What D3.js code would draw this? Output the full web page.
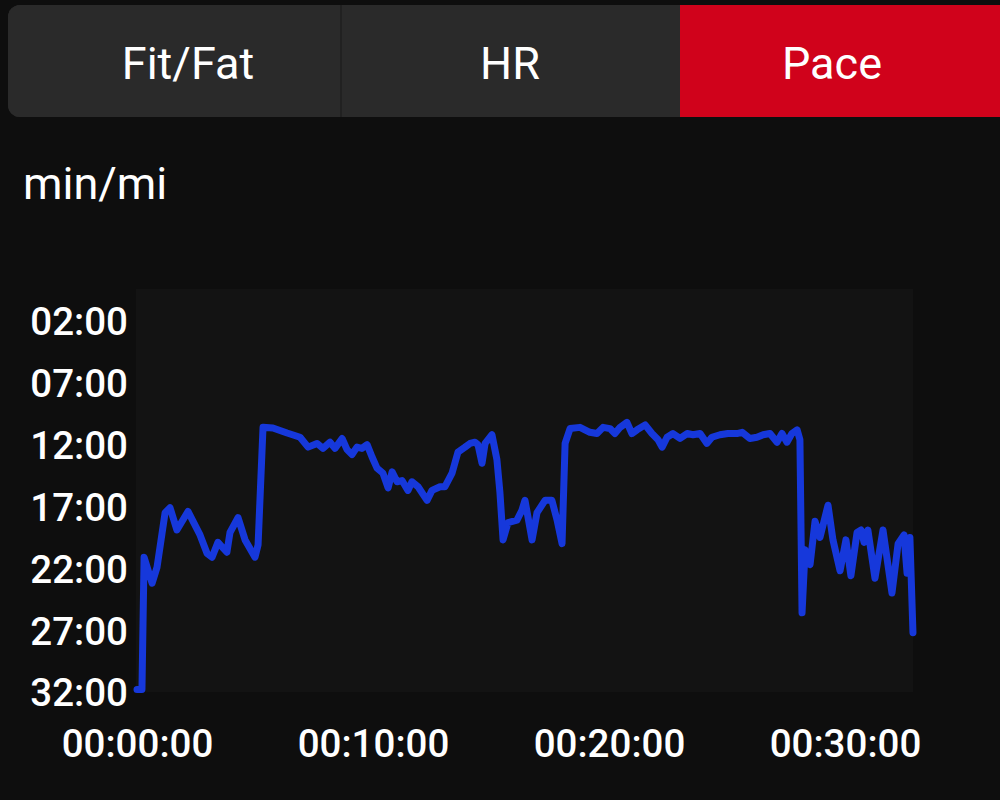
<!DOCTYPE html>
<html>
<head>
<meta charset="utf-8">
<script src="https://cdn.jsdelivr.net/npm/d3@7"></script>
<style>
  html, body { margin: 0; padding: 0; background: #0e0e0e; }
  svg { display: block; }
</style>
</head>
<body>
<svg id="chart" width="1000" height="800"></svg>
<script>
// ---- Data (elapsed minutes, pace in min/mi) ----
const tabs = ["Fit/Fat", "HR", "Pace"];
const activeTab = "Pace";
const unitLabel = "min/mi";
const xTickValues = [0, 10, 20, 30];
const yTickValues = [2, 7, 12, 17, 22, 27, 32];
const elapsedMin = [
  0, 0.21, 0.30, 0.64, 0.85, 1.19, 1.40, 1.69, 2.16, 2.67, 2.97, 3.18, 3.43, 3.81, 3.94, 4.28, 4.58, 5.00, 5.13, 5.34,
  5.76, 6.36, 6.91, 7.25, 7.63, 7.88, 8.18, 8.39, 8.69, 8.90, 9.11, 9.32, 9.53, 9.75, 9.96, 10.17, 10.42, 10.64, 10.81, 11.02,
  11.23, 11.48, 11.65, 11.91, 12.29, 12.50, 12.84, 13.05, 13.35, 13.60, 13.90, 14.11, 14.32, 14.45, 14.62, 14.75, 15.04, 15.25, 15.38, 15.51,
  15.72, 16.10, 16.31, 16.44, 16.74, 16.95, 17.29, 17.58, 17.80, 18.01, 18.14, 18.35, 18.77, 19.19, 19.49, 19.75, 20.04, 20.25, 20.47, 20.76,
  20.97, 21.19, 21.53, 21.82, 22.08, 22.25, 22.46, 22.71, 23.01, 23.31, 23.56, 23.86, 24.15, 24.36, 24.70, 25.04, 25.42, 25.64, 25.97, 26.27,
  26.53, 26.82, 27.12, 27.33, 27.54, 27.75, 27.97, 28.09, 28.18, 28.31, 28.52, 28.73, 28.94, 29.28, 29.49, 29.79, 30.04, 30.25, 30.51, 30.68,
  30.81, 30.97, 31.27, 31.61, 31.99, 32.25, 32.50, 32.63, 32.75, 32.88
];
const paceMin = [
  31.8, 31.8, 21.1, 23.2, 21.9, 17.5, 17.1, 18.9, 17.4, 19.3, 20.8, 21.1, 19.9, 20.7, 19.1, 17.9, 19.7, 21.1, 20.1, 10.6,
  10.65, 11.06, 11.4, 12.2, 11.9, 12.3, 11.8, 12.3, 11.5, 12.4, 12.8, 12.2, 12.3, 12.0, 13.0, 13.9, 14.3, 15.5, 14.2, 15.0,
  14.9, 15.7, 15.0, 15.4, 16.5, 15.7, 15.4, 15.4, 14.3, 12.6, 12.2, 11.9, 11.8, 12.0, 13.5, 11.9, 11.2, 13.2, 15.9, 19.7,
  18.3, 18.1, 17.3, 16.5, 19.7, 17.5, 16.5, 16.5, 18.1, 20.0, 11.9, 10.7, 10.6, 11.0, 11.1, 10.6, 10.7, 11.1, 10.6, 10.2,
  11.1, 10.8, 10.4, 11.1, 11.6, 12.2, 11.4, 11.1, 11.5, 11.1, 11.2, 11.1, 11.9, 11.4, 11.2, 11.1, 11.1, 11.0, 11.5, 11.4,
  11.2, 11.1, 11.8, 11.1, 11.8, 11.1, 10.8, 11.6, 25.6, 20.5, 21.7, 18.2, 19.5, 16.9, 19.7, 22.2, 19.7, 22.6, 19.1, 18.9,
  19.9, 18.9, 22.8, 18.9, 24.0, 20.0, 19.3, 22.4, 19.5, 27.2
];

const data = elapsedMin.map((t, i) => ({ t, p: paceMin[i] }));
const svg = d3.select("#chart");
const font = "Roboto, 'Noto Sans', sans-serif";

// ---- Tab bar ----
svg.append("rect").attr("x", 8).attr("y", 5).attr("width", 1010).attr("height", 112)
  .attr("rx", 12).attr("fill", "#2a2a2a");
svg.append("clipPath").attr("id", "tabclip").append("rect")
  .attr("x", 8).attr("y", 5).attr("width", 1010).attr("height", 112).attr("rx", 12);
const tabG = svg.append("g").attr("clip-path", "url(#tabclip)");
tabs.forEach((name, i) => {
  const x0 = [8, 341, 680][i];
  const x1 = [341, 680, 1020][i];
  tabG.append("rect").attr("x", x0).attr("y", 5).attr("width", x1 - x0).attr("height", 112)
    .attr("fill", name === activeTab ? "#d0021b" : "#2a2a2a");
  if (i > 0 && tabs[i] !== activeTab) {
    tabG.append("line").attr("x1", x0).attr("x2", x0).attr("y1", 5).attr("y2", 117)
      .attr("stroke", "#1f1f1f").attr("stroke-width", 1.5);
  }
  svg.append("text").attr("x", [188, 510, 832][i]).attr("y", 79)
    .attr("text-anchor", "middle").attr("fill", "#ffffff")
    .style("font-family", font).style("font-size", "45px")
    .text(name);
});

// ---- Unit label ----
svg.append("text").attr("x", 23).attr("y", 199).attr("fill", "#ffffff")
  .style("font-family", font).style("font-size", "45px").text(unitLabel);

// ---- Scales ----
const x = d3.scaleLinear().domain([0, 30]).range([137, 845]);
const y = d3.scaleLinear().domain([2, 32]).range([321, 692]);

// plot background
svg.append("rect").attr("x", 136).attr("y", 289).attr("width", 777).attr("height", 403)
  .attr("fill", "#131313");

// ---- Axes ----
const pad2 = n => String(n).padStart(2, "0");
const xAxis = d3.axisBottom(x).tickValues(xTickValues).tickSize(0).tickPadding(0)
  .tickFormat(d => `00:${pad2(d)}:00`);
const gx = svg.append("g").attr("transform", "translate(0,757)").call(xAxis);
gx.select(".domain").remove();
gx.selectAll("text").attr("fill", "#ffffff").attr("dy", 0)
  .style("font-family", font).style("font-size", "38.5px").style("font-weight", 500);

const yAxis = d3.axisLeft(y).tickValues(yTickValues).tickSize(0).tickPadding(0)
  .tickFormat(d => `${pad2(d)}:00`);
const gy = svg.append("g").attr("transform", "translate(128,0)").call(yAxis);
gy.select(".domain").remove();
gy.selectAll("text").attr("fill", "#ffffff").attr("dy", "0.36em")
  .style("font-family", font).style("font-size", "38.5px").style("font-weight", 500);

// ---- Line ----
const line = d3.line().x(d => x(d.t)).y(d => y(d.p)).curve(d3.curveLinear);
svg.append("path").datum(data).attr("d", line)
  .attr("fill", "none").attr("stroke", "#1638db").attr("stroke-width", 7)
  .attr("stroke-linejoin", "round").attr("stroke-linecap", "round");
</script>
</body>
</html>
